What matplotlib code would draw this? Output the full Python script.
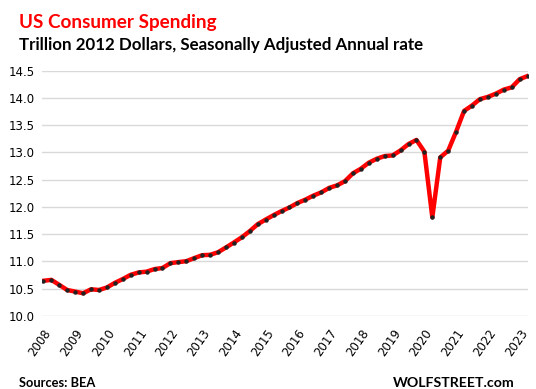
import matplotlib
matplotlib.use('Agg')
import matplotlib.pyplot as plt

# Real consumer spending, trillion 2012 dollars, quarterly 2008Q1 - 2023Q2
years = list(range(2008, 2024))
spending = [
    10.644, 10.661, 10.569, 10.475,   # 2008
    10.446, 10.415, 10.488, 10.475,   # 2009
    10.521, 10.606, 10.676, 10.754,   # 2010
    10.797, 10.812, 10.859, 10.879,   # 2011
    10.968, 10.987, 11.004, 11.060,   # 2012
    11.114, 11.121, 11.168, 11.256,   # 2013
    11.347, 11.444, 11.556, 11.683,   # 2014
    11.768, 11.849, 11.924, 11.990,   # 2015
    12.072, 12.134, 12.207, 12.267,   # 2016
    12.350, 12.396, 12.474, 12.618,   # 2017
    12.702, 12.813, 12.885, 12.934,   # 2018
    12.946, 13.039, 13.155, 13.230,   # 2019
    13.014, 11.811, 12.910, 13.034,   # 2020
    13.383, 13.763, 13.862, 13.980,   # 2021
    14.021, 14.080, 14.154, 14.196,   # 2022
    14.346, 14.404,                   # 2023
]
yticks = [10.0, 10.5, 11.0, 11.5, 12.0, 12.5, 13.0, 13.5, 14.0, 14.5]

fig = plt.figure(figsize=(5.36, 3.89), dpi=100)
ax = fig.add_axes([0.078, 0.188, 0.907, 0.630])

x = list(range(len(spending)))
ax.plot(x, spending, color='#ff0000', linewidth=3.2, solid_joinstyle='round', zorder=3)
ax.plot(x, spending, linestyle='none', marker='o', markersize=2.2, color='#222222', zorder=4)

ax.set_ylim(10.0, 14.5)
ax.set_xlim(-0.2, len(spending) - 1 + 0.05)
ax.set_yticks(yticks)
ax.set_yticklabels([f"{v:.1f}" for v in yticks], fontsize=8.5)
ax.set_xticks([(y - 2008) * 4 for y in years])
ax.set_xticklabels([str(y) for y in years], rotation=55, ha='right', va='top',
                   rotation_mode='anchor', fontsize=8.5)
ax.tick_params(length=0, pad=5)
ax.tick_params(axis='x', pad=8)
ax.grid(axis='y', color='#d9d9d9', linewidth=1)
ax.set_axisbelow(True)
for s in ax.spines.values():
    s.set_visible(False)

fig.text(0.035, 0.928, "US Consumer Spending", color='#ff0000', fontsize=13.6,
         fontweight='bold', family='Lato', va='baseline')
fig.text(0.035, 0.872, "Trillion 2012 Dollars, Seasonally Adjusted Annual rate",
         color='black', fontsize=12.2, fontweight='bold', family='Lato', va='baseline')
fig.text(0.035, 0.006, "Sources: BEA", fontsize=9.3, fontweight='bold', family='Lato')
fig.text(0.961, 0.006, "WOLFSTREET.com", fontsize=10.2, fontweight='bold',
         family='Lato', ha='right')

plt.savefig("out.png", dpi=100)
plt.close()
